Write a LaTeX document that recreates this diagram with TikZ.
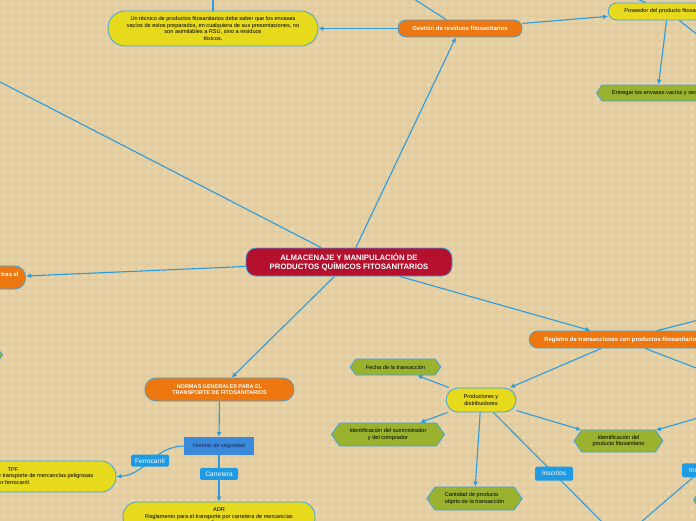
\documentclass[tikz,border=0pt]{standalone}
\usepackage{fontspec}
\setmainfont{Liberation Sans}
\usetikzlibrary{arrows.meta}
\usetikzlibrary{shapes.symbols}

\definecolor{bgtan}{HTML}{E8D4A8}
\definecolor{gridtan}{HTML}{D9C08C}
\definecolor{lineblue}{HTML}{2A9BE0}
\definecolor{edgeblue}{HTML}{3DA2E2}
\definecolor{mmyellow}{HTML}{E7DA1D}
\definecolor{mmorange}{HTML}{EE7710}
\definecolor{mmred}{HTML}{B5102E}
\definecolor{mmgreen}{HTML}{9BB22F}
\definecolor{tagblue}{HTML}{1E9BE3}
\definecolor{segblue}{HTML}{3A89DA}
\definecolor{segtext}{HTML}{15245A}

\begin{document}
\begin{tikzpicture}[x=1pt,y=-1pt]
\tikzstyle{conn}=[draw=lineblue, line width=1.1pt]
\tikzstyle{arr}=[conn, -{Latex[length=5pt,width=5pt]}]
\tikzstyle{topic}=[draw=edgeblue, line width=0.8pt, align=center, inner xsep=10pt, inner ysep=2pt, font=\fontsize{5.6}{6.5}\selectfont]
\tikzstyle{yel}=[topic, fill=mmyellow, text=black]
\tikzstyle{ora}=[topic, fill=mmorange, text=white, font=\fontsize{5.9}{6.8}\bfseries\selectfont]
\tikzstyle{hexa}=[topic, shape=signal, signal to=east and west, signal pointer angle=110, fill=mmgreen, text=black]
\tikzstyle{tag}=[fill=tagblue, text=white, rounded corners=1.5pt, inner sep=1pt, minimum width=38pt, minimum height=12pt, font=\fontsize{6.5}{7}\selectfont]

\useasboundingbox (0,0) rectangle (696,520);
\clip (0,0) rectangle (696,520);
\fill[bgtan] (-1,-1) rectangle (697,521);
\draw[gridtan, opacity=.3, line width=3pt, step=8pt] (0,0) grid (696,520);

% central topic
\node (main) at (349,262) [topic, fill=mmred, text=white, rounded corners=10pt, minimum width=206pt, minimum height=28pt, font=\fontsize{7.8}{9}\bfseries\selectfont] {ALMACENAJE Y MANIPULACIÓN DE\\PRODUCTOS QUÍMICOS FITOSANITARIOS};

% residuos
\node (advice) at (213,28.5) [yel, rounded corners=17pt, minimum width=210pt, minimum height=35pt] {Un técnico de productos fitosanitarios debe saber que los envases\\vacíos de estos preparados, en cualquiera de sus presentaciones, no\\son asimilables a RSU, sino a residuos\\tóxicos.};
\node (gest) at (460,28.5) [ora, rounded corners=8pt, minimum width=124pt, minimum height=17pt] {Gestión de residuos fitosanitarios};
\node (holder) at (608,11.5) [yel, anchor=west, rounded corners=8pt, minimum height=17pt, inner xsep=16pt] {Poseedor del producto fitosanitario};
\node (return) at (596,93) [hexa, anchor=west, minimum height=16pt] {Entregar los envases vacíos y secos};

% left side
\node (storage) at (26,277.5) [ora, anchor=east, align=left, inner xsep=7pt, rounded corners=11pt, minimum height=23pt] {Actuaciones tras el\\derrame};
\node (lefthex) at (3,355) [hexa, anchor=east, minimum width=60pt, minimum height=14pt] {};

% transporte
\node (norms) at (219.5,389.5) [ora, rounded corners=11pt, minimum width=149pt, minimum height=23pt, font=\fontsize{5.5}{6.8}\bfseries\selectfont] {NORMAS GENERALES PARA EL\\TRANSPORTE DE FITOSANITARIOS};
\node (safety) at (219,446) [fill=segblue, text=segtext, minimum width=70pt, minimum height=18pt, font=\fontsize{5.4}{6}\selectfont] {Normas de seguridad};
\node (tpf) at (13,476.5) [yel, rounded corners=15pt, minimum width=206pt, minimum height=31pt] {TPF\\Reglamento nacional sobre transporte de mercancías peligrosas\\por ferrocarril.};
\node (adr) at (219,517) [yel, rounded corners=14pt, minimum width=192pt, minimum height=30pt] {ADR\\Reglamento para el transporte por carretera de mercancías\\peligrosas.};

% registro
\node (reg) at (529,339.5) [ora, anchor=west, rounded corners=8pt, minimum height=17pt, inner xsep=15pt] {Registro de transacciones con productos fitosanitarios};
\node (prod) at (481,400) [yel, rounded corners=12pt, minimum width=70pt, minimum height=24pt] {Productores y\\distribuidores};
\node (date) at (395.5,367) [hexa, minimum width=89pt, minimum height=16pt] {Fecha de la transacción};
\node (parties) at (388,434.5) [hexa, minimum width=110pt, minimum height=23pt] {Identificación del suministrador\\y del comprador};
\node (qty) at (474.5,498.5) [hexa, align=left, minimum width=93pt, minimum height=23pt] {Cantidad de producto\\objeto de la transacción};
\node (prodid) at (618.5,441) [hexa, minimum width=89pt, minimum height=22pt] {Identificación del\\producto fitosanitario};
\node (righthex) at (693,500) [hexa, anchor=west, minimum width=60pt, minimum height=14pt] {};

\coordinate (up1) at (213,-10);
\coordinate (up2) at (400,-10);
\coordinate (up3) at (610,-12);
\coordinate (r1) at (720,52);
\coordinate (nw) at (-30,66.5);
\coordinate (r2) at (750,307);
\coordinate (r3) at (760,392.5);
\coordinate (r4) at (760,400);
\coordinate (r5) at (760,420);
\coordinate (bot) at (620,540);

\draw[conn] (advice) -- (up1);
\draw[conn] (gest) -- (up2);
\draw[arr] (gest) -- (advice);
\draw[arr] (gest) -- (holder);
\draw[conn] (holder) -- (up3);
\draw[conn] (holder) -- (r1);
\draw[arr] (holder) -- (return);

\draw[conn] (main) -- (nw);
\draw[arr] (main) -- (gest);
\draw[arr] (main) -- (storage);
\draw[arr] (main) -- (norms);
\draw[arr] (main) -- (reg);

\draw[arr] (norms) -- (safety);
\draw[arr] (safety) -- (adr) node[tag, pos=0.4] {Carretera};
\draw[arr] (safety.west) .. controls (155,446) and (145,475) .. (tpf.east) node[tag, pos=0.5] {Ferrocarril};

\draw[conn] (reg) -- (r2);
\draw[conn] (reg) -- (r3);
\draw[arr] (reg) -- (prod);
\draw[arr] (prod) -- (date);
\draw[arr] (prod) -- (parties);
\draw[arr] (prod) -- (qty);
\draw[arr] (prod) -- (prodid);
\draw[arr] (r4) -- (prodid);
\draw[conn] (prod) -- (bot) node[tag, pos=0.48, minimum height=14pt] {Inscritos};
\draw[conn] (r5) -- (bot) node[tag, pos=0.42, minimum height=14pt] {Inscritos};

\end{tikzpicture}
\end{document}
